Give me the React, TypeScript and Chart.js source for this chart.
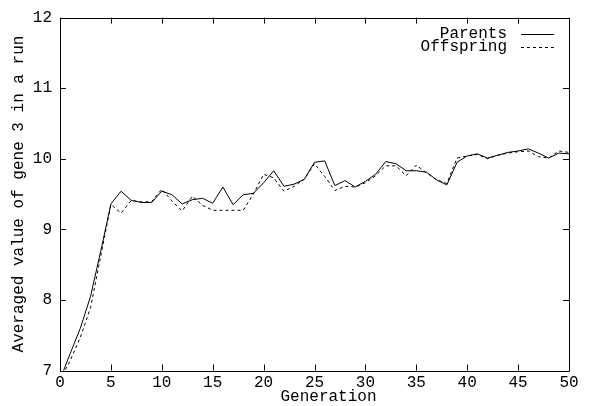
import React, { useEffect, useRef } from "react";
import { Chart, registerables } from "chart.js";

Chart.register(...registerables);

const generations: number[] = Array.from({ length: 51 }, (_, i) => i);

const parents: number[] = [
  6.87, 7.24, 7.6, 8.05, 8.69, 9.36, 9.54, 9.41, 9.38, 9.38,
  9.54, 9.49, 9.36, 9.42, 9.44, 9.37, 9.6, 9.35, 9.49, 9.51,
  9.66, 9.83, 9.61, 9.64, 9.71, 9.95, 9.97, 9.62, 9.69, 9.6,
  9.68, 9.78, 9.96, 9.93, 9.83, 9.83, 9.81, 9.7, 9.63, 9.95,
  10.04, 10.07, 10.01, 10.05, 10.09, 10.11, 10.14, 10.08, 10.01, 10.08,
  10.07,
];

const offspring: number[] = [
  6.86, 7.14, 7.47, 7.89, 8.62, 9.35, 9.23, 9.41, 9.39, 9.39,
  9.57, 9.4, 9.26, 9.47, 9.34, 9.27, 9.27, 9.27, 9.27, 9.5,
  9.78, 9.73, 9.54, 9.61, 9.71, 9.93, 9.75, 9.55, 9.61, 9.6,
  9.66, 9.76, 9.9, 9.9, 9.76, 9.91, 9.8, 9.7, 9.65, 10.01,
  10.04, 10.06, 10.0, 10.05, 10.08, 10.1, 10.11, 10.03, 10.01, 10.11,
  10.09,
];

const seriesNames: string[] = ["Parents", "Offspring"];
const xTicks: number[] = [0, 5, 10, 15, 20, 25, 30, 35, 40, 45, 50];
const yTicks: number[] = [7, 8, 9, 10, 11, 12];
const xTitle = "Generation";
const yTitle = "Averaged value of gene 3 in a run";

const FONT = "'Liberation Mono', 'DejaVu Sans Mono', monospace";

const framePlugin = {
  id: "gnuplotFrame",
  afterDraw(chart: any) {
    const { ctx, chartArea } = chart;
    const { left, right, top, bottom } = chartArea;
    const xs = chart.scales.x;
    const ys = chart.scales.y;
    const tl = 6;
    ctx.save();
    ctx.strokeStyle = "#000";
    ctx.lineWidth = 1;
    ctx.setLineDash([]);
    ctx.beginPath();
    ctx.rect(Math.round(left) + 0.5, Math.round(top) + 0.5, Math.round(right - left), Math.round(bottom - top));
    ctx.stroke();
    ctx.beginPath();
    xTicks.forEach((v) => {
      const px = Math.round(xs.getPixelForValue(v)) + 0.5;
      ctx.moveTo(px, bottom);
      ctx.lineTo(px, bottom - tl);
      ctx.moveTo(px, top);
      ctx.lineTo(px, top + tl);
    });
    yTicks.forEach((v) => {
      const py = Math.round(ys.getPixelForValue(v)) + 0.5;
      ctx.moveTo(left, py);
      ctx.lineTo(left + tl, py);
      ctx.moveTo(right, py);
      ctx.lineTo(right - tl, py);
    });
    ctx.stroke();

    ctx.font = `16px ${FONT}`;
    ctx.fillStyle = "#000";

    // x axis title (gnuplot places it slightly right of the plot centre)
    ctx.textAlign = "center";
    ctx.textBaseline = "middle";
    ctx.fillText(xTitle, (left + right) / 2 + 14, 397);

    // legend (gnuplot style: text then line sample)
    ctx.textAlign = "right";
    const textRight = right - 62;
    const s0 = right - 48;
    const s1 = right - 15;
    chart.data.datasets.forEach((ds: any, i: number) => {
      const y = top + 16 + i * 13.5;
      ctx.fillText(ds.label, textRight, y);
      ctx.beginPath();
      ctx.setLineDash(ds.borderDash || []);
      ctx.moveTo(s0, Math.round(y) + 0.5);
      ctx.lineTo(s1, Math.round(y) + 0.5);
      ctx.stroke();
    });
    ctx.restore();
  },
};

export default function App() {
  const ref = useRef<HTMLCanvasElement | null>(null);

  useEffect(() => {
    if (!ref.current) return;
    const chart = new Chart(ref.current, {
      type: "line",
      data: {
        datasets: [
          {
            label: seriesNames[0],
            data: generations.map((g, i) => ({ x: g, y: parents[i] })),
            borderColor: "#000",
            borderWidth: 1,
            pointRadius: 0,
            tension: 0,
            fill: false,
          },
          {
            label: seriesNames[1],
            data: generations.map((g, i) => ({ x: g, y: offspring[i] })),
            borderColor: "#000",
            borderWidth: 1,
            borderDash: [3, 3],
            pointRadius: 0,
            tension: 0,
            fill: false,
          },
        ],
      },
      options: {
        responsive: false,
        animation: false,
        devicePixelRatio: 1,
        layout: { padding: { top: 14, right: 21, left: 0, bottom: 0 } },
        plugins: {
          legend: { display: false },
          tooltip: { enabled: false },
          title: { display: false },
        },
        scales: {
          x: {
            type: "linear",
            min: 0,
            max: 50,
            grid: { display: false, drawTicks: false },
            border: { display: false },
            ticks: {
              stepSize: 5,
              padding: 3,
              color: "#000",
              font: { family: FONT, size: 16 },
              maxRotation: 0,
              autoSkip: false,
            },
            title: { display: false },
            afterFit: (s: any) => {
              s.height = 35.5;
            },
          },
          y: {
            type: "linear",
            min: 7,
            max: 12,
            grid: { display: false, drawTicks: false },
            border: { display: false },
            ticks: {
              stepSize: 1,
              padding: 8,
              color: "#000",
              font: { family: FONT, size: 16 },
            },
            title: {
              display: true,
              text: yTitle,
              color: "#000",
              font: { family: FONT, size: 16 },
              padding: { top: 9, bottom: 0 },
            },
            afterFit: (s: any) => {
              s.width = 60;
            },
          },
        },
      },
      plugins: [framePlugin],
    });
    return () => chart.destroy();
  }, []);

  return (
    <div style={{ position: "fixed", left: 0, top: 0, width: 590, height: 406, background: "#fff" }}>
      <canvas ref={ref} width={590} height={406} style={{ width: 590, height: 406 }} />
    </div>
  );
}
